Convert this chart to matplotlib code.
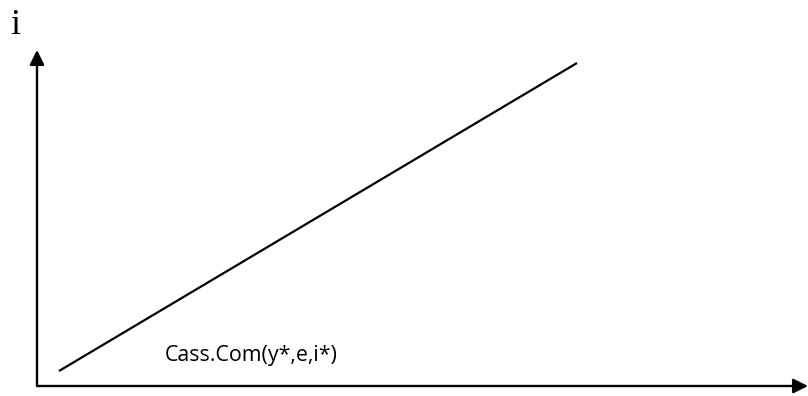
import matplotlib
matplotlib.use("Agg")
import matplotlib.pyplot as plt

# Data (pixel-like units, origin at axes corner)
line_x = [22, 540]
line_y = [15, 323]
curve_label = "Cass.Com(y*,e,i*)"
y_axis_label = "i"

fig = plt.figure(figsize=(8.08, 3.96), dpi=100)
ax = fig.add_axes([0, 0, 1, 1])
ax.set_xlim(-37, 771)
ax.set_ylim(-10, 386)
ax.axis("off")

arrow = dict(arrowstyle="-|>", color="black", lw=1.7, mutation_scale=22,
             shrinkA=0, shrinkB=0)
ax.annotate("", xy=(0, 336), xytext=(0, 0), arrowprops=arrow)
ax.annotate("", xy=(771, 0), xytext=(0, 0), arrowprops=arrow)

ax.plot(line_x, line_y, color="black", lw=1.6, solid_capstyle="butt")

ax.text(128, 31, curve_label, fontsize=15.4, family="Open Sans",
        ha="left", va="center")
ax.text(-22, 360, y_axis_label, fontsize=26, family="Liberation Serif",
        ha="center", va="center")

fig.savefig("out.png", dpi=100)
